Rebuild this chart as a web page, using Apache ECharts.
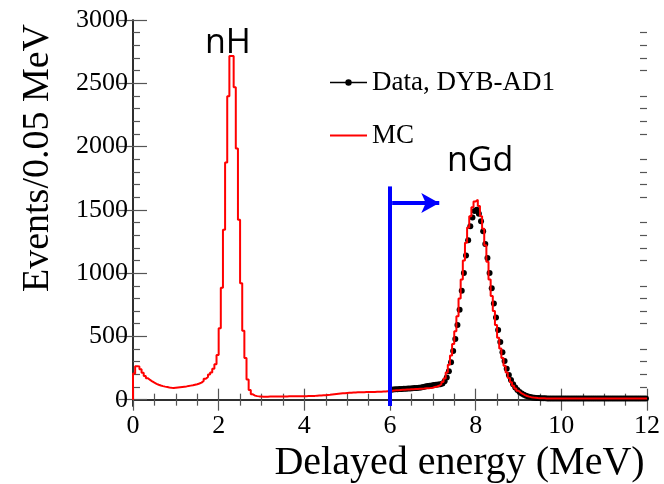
<!DOCTYPE html>
<html>
<head>
<meta charset="utf-8">
<script src="https://cdn.jsdelivr.net/npm/echarts@6/dist/echarts.min.js"></script>
<style>
  html, body { margin: 0; padding: 0; background: #fff; }
  #chart { width: 664px; height: 484px; }
</style>
</head>
<body>
<div id="chart"></div>
<script>
// Delayed-energy spectrum, 0.05 MeV bins from 0 to 12 MeV
const binWidth = 0.05;

// Monte Carlo prediction, one count per bin (bins start at 0.00, 0.05, ...)
const mcCounts = [
  // 0.00 - 0.95
  207, 265, 262, 240, 212, 188, 170, 156, 144, 134, 125, 118, 112, 107, 103, 100, 96, 94, 93, 95,
  // 1.00 - 1.95
  97, 99, 101, 103, 105, 108, 111, 114, 118, 122, 128, 135, 148, 165, 180, 198, 215, 245, 280, 352,
  // 2.00 - 2.95
  564, 885, 1342, 1875, 2398, 2715, 2715, 2469, 1984, 1422, 920, 545, 330, 160, 76, 42, 32, 28, 26, 25,
  // 3.00 - 3.95
  24, 24, 24, 25, 25, 25, 25, 25, 26, 26, 26, 26, 27, 27, 27, 27, 27, 28, 28, 28,
  // 4.00 - 4.95
  28, 29, 29, 30, 30, 31, 32, 33, 34, 35, 37, 38, 40, 42, 44, 46, 48, 50, 51, 53,
  // 5.00 - 5.95
  54, 55, 56, 57, 58, 58, 59, 59, 60, 60, 60, 61, 61, 62, 62, 63, 64, 65, 66, 67,
  // 6.00 - 6.95
  70, 72, 74, 75, 77, 78, 79, 80, 81, 82, 83, 84, 85, 86, 87, 88, 90, 91, 92, 94,
  // 7.00 - 7.95
  100, 104, 110, 122, 140, 168, 215, 275, 350, 440, 540, 660, 800, 950, 1100, 1240, 1360, 1450, 1520, 1565,
  // 8.00 - 8.95
  1580, 1530, 1450, 1350, 1220, 1090, 950, 820, 700, 590, 490, 405, 330, 268, 215, 172, 138, 110, 88, 70,
  // 9.00 - 9.95
  56, 45, 36, 29, 24, 20, 17, 15, 13, 12, 11, 11, 10, 10, 10, 10, 10, 10, 10, 10,
  // 10.00 - 10.95
  10, 10, 10, 10, 10, 10, 10, 10, 10, 10, 10, 10, 10, 10, 10, 10, 10, 10, 10, 10,
  // 11.00 - 11.95
  10, 10, 10, 10, 10, 10, 10, 10, 10, 10, 10, 10, 10, 10, 10, 10, 10, 10, 10, 10
];

// Measured events (DYB-AD1) above the 6 MeV cut, bins start at 6.00
const dataStart = 6.0;
const dataCounts = [
  // 6.00 - 6.95
  78, 80, 82, 83, 84, 85, 86, 87, 88, 88, 90, 92, 93, 95, 97, 100, 104, 108, 110, 112,
  // 7.00 - 7.95
  115, 118, 120, 122, 128, 145, 175, 225, 295, 385, 480, 590, 710, 860, 1000, 1140, 1260, 1370, 1440, 1490,
  // 8.00 - 8.95
  1500, 1470, 1410, 1330, 1230, 1120, 1000, 880, 760, 650, 550, 455, 375, 305, 245, 195, 155, 122, 96, 76,
  // 9.00 - 9.95
  60, 48, 38, 31, 25, 21, 18, 16, 14, 13, 12, 11, 11, 10, 10, 10, 10, 10, 10, 10,
  // 10.00 - 10.95
  10, 10, 10, 10, 10, 10, 10, 10, 10, 10, 10, 10, 10, 10, 10, 10, 10, 10, 10, 10,
  // 11.00 - 11.95
  10, 10, 10, 10, 10, 10, 10, 10, 10, 10, 10, 10, 10, 10, 10, 10, 10, 10, 10, 10
];

// Axis ranges and ticks
const xMin = 0, xMax = 12, xStep = 2;
const yMin = -50, yMax = 3000;
const yMajorTicks = [0, 500, 1000, 1500, 2000, 2500, 3000];
const yMinorTicks = [100, 200, 300, 400, 600, 700, 800, 900, 1100, 1200, 1300, 1400,
  1600, 1700, 1800, 1900, 2100, 2200, 2300, 2400, 2600, 2700, 2800, 2900];

// Selection cut and arrow
const cutEnergy = 6;
const cutTop = 1685;
const arrowLevel = 1554;
const arrowEnd = 7.15;

const labelNames = { data: 'Data, DYB-AD1', mc: 'MC' };

// Histogram outline: rises from zero at the first edge, then one point per bin edge
const mcStep = [[xMin, 0]].concat(mcCounts.map((v, i) => [+(i * binWidth).toFixed(2), v]));
mcStep.push([xMax, mcCounts[mcCounts.length - 1]]);

// Data points at bin centres
const dataPoints = dataCounts.map((v, i) => [+(dataStart + (i + 0.5) * binWidth).toFixed(3), v]);

const serif = '"Liberation Serif", "Times New Roman", serif';
const sans = '"Open Sans", "Liberation Sans", sans-serif';
const frame = { show: true, lineStyle: { color: '#222', width: 1.5 } };
const tickColor = '#555';
const plain = v => String(v);

function xAxisCfg(pos, showLabels) {
  return {
    type: 'value', position: pos, min: xMin, max: xMax, interval: xStep,
    axisLine: frame,
    axisTick: { show: true, inside: true, length: 11, lineStyle: { color: tickColor, width: 1.2 } },
    minorTick: { show: true, splitNumber: 4, length: 6, lineStyle: { color: tickColor, width: 1.2 } },
    splitLine: { show: false }, minorSplitLine: { show: false },
    axisLabel: { show: showLabels, margin: 7, fontFamily: serif, fontSize: 26, color: '#000',
      formatter: plain }
  };
}

function yAxisCfg(pos, values, len, showLabels, showLine) {
  return {
    type: 'value', position: pos, min: yMin, max: yMax,
    axisLine: showLine ? frame : { show: false },
    axisTick: { show: true, inside: true, length: len, customValues: values,
      lineStyle: { color: tickColor, width: 1.2 } },
    splitLine: { show: false },
    axisLabel: { show: showLabels, customValues: values, margin: 5, formatter: plain,
      fontFamily: serif, fontSize: 26, color: '#000' }
  };
}

const chart = echarts.init(document.getElementById('chart'), null, { renderer: 'canvas' });

const xBottom = xAxisCfg('bottom', true);
xBottom.name = 'Delayed energy (MeV)';
xBottom.nameLocation = 'middle';
xBottom.nameGap = 33;
xBottom.nameTextStyle = { fontFamily: serif, fontSize: 40, color: '#000',
  padding: [0, 0, 0, 139] };

const yLeft = yAxisCfg('left', yMajorTicks, 14, true, true);
yLeft.name = 'Events/0.05 MeV';
yLeft.nameLocation = 'middle';
yLeft.nameGap = 76;
yLeft.nameTextStyle = { fontFamily: serif, fontSize: 38, color: '#000',
  padding: [0, 0, 0, 110] };

chart.setOption({
  animation: false,
  backgroundColor: '#fff',
  grid: { left: 133, right: 17, top: 20, bottom: 78, containLabel: false, outerBoundsMode: 'none' },
  xAxis: [xBottom, xAxisCfg('top', false)],
  yAxis: [
    yLeft,
    yAxisCfg('right', yMajorTicks, 14, false, true),
    yAxisCfg('left', yMinorTicks, 7, false, false),
    yAxisCfg('right', yMinorTicks, 7, false, false)
  ],
  legend: {
    left: 324, top: 64, orient: 'vertical', itemGap: 26,
    itemWidth: 37, itemHeight: 8,
    textStyle: { fontFamily: serif, fontSize: 27, color: '#000' },
    data: [
      { name: labelNames.data, lineStyle: { color: '#000', width: 1.5, opacity: 1 } },
      { name: labelNames.mc, itemStyle: { opacity: 0 } }
    ]
  },
  series: [
    {
      name: labelNames.data, type: 'line', data: dataPoints, z: 3,
      symbol: 'circle', symbolSize: 6, showSymbol: true,
      itemStyle: { color: '#000' },
      lineStyle: { width: 0, opacity: 0, color: '#000' }
    },
    {
      name: labelNames.mc, type: 'line', step: 'end', data: mcStep, z: 4,
      symbol: 'none', lineStyle: { color: '#ff0000', width: 2 }, itemStyle: { color: '#ff0000' }
    },
    {
      name: 'cut', type: 'line', data: [[cutEnergy, yMin], [cutEnergy, cutTop]], z: 5,
      symbol: 'none', lineStyle: { color: '#0000ff', width: 4 }, silent: true,
      markLine: {
        silent: true, symbol: ['none', 'arrow'], symbolSize: [15, 18],
        label: { show: false },
        lineStyle: { color: '#0000ff', width: 4, type: 'solid' },
        data: [[{ coord: [cutEnergy + 0.05, arrowLevel] }, { coord: [arrowEnd, arrowLevel] }]]
      }
    }
  ],
  graphic: [
    { type: 'text', left: 205, top: 26, style: { text: 'nH', font: '34px ' + sans, fill: '#000' } },
    { type: 'text', left: 447, top: 144, style: { text: 'nGd', font: '34px ' + sans, fill: '#000' } }
  ]
});
</script>
</body>
</html>
